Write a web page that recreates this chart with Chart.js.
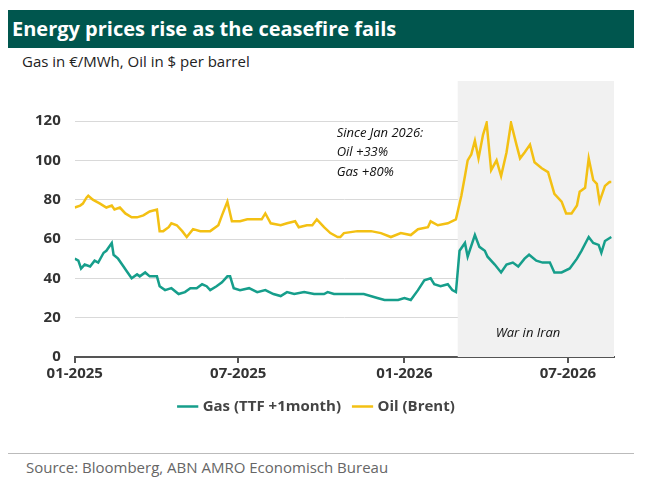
<!DOCTYPE html>
<html>
<head>
<meta charset="utf-8">
<script src="https://cdn.jsdelivr.net/npm/chart.js@4/dist/chart.umd.min.js"></script>
<style>
  body { margin: 0; width: 648px; height: 488px; background: #fff; font-family: "Open Sans", sans-serif; position: relative; }
  #title { position: absolute; left: 8px; top: 10px; width: 626px; height: 38px; background: #00564e; color: #fff;
           font: bold 20px "Open Sans", sans-serif; line-height: 38px; padding-left: 4px; box-sizing: border-box; }
  #sub { position: absolute; left: 22px; top: 51px; font-size: 15px; color: #222; }
  #wrap { position: absolute; left: 0; top: 78px; width: 648px; height: 350px; }
  #rule { position: absolute; left: 8px; top: 453px; width: 626px; border-top: 1px solid #bbb; }
  #src { position: absolute; left: 26px; top: 457px; font-size: 15px; color: #666; }
</style>
</head>
<body>
<div id="title">Energy prices rise as the ceasefire fails</div>
<div id="sub">Gas in €/MWh, Oil in $ per barrel</div>
<div id="wrap"><canvas id="myChart"></canvas></div>
<div id="rule"></div>
<div id="src">Source: Bloomberg, ABN AMRO Economisch Bureau</div>
<script>
// Dagen sinds 1 januari 2025
const gasDays = [0,4,7,11,17,22,26,32,35,41,43,48,54,57,63,69,72,78,83,91,94,100,107,115,122,128,135,141,146,150,157,163,169,172,176,183,193,202,211,220,228,235,243,254,265,276,280,287,
  306,320,335,343,358,365,372,380,387,394,398,405,413,418,422,426,432,435,443,448,454,457,465,472,478,485,491,498,503,511,518,526,531,539,548,556,561,569,574,580,583,587,594];
const gasValues = [50,49,45,47,46,49,48,53,54,58,52,50,46,44,40,42,41,43,41,41,36,34,35,32,33,35,35,37,36,34,36,38,41,41,35,34,35,33,34,32,31,33,32,33,32,32,33,32,
  32,32,30,29,29,30,29,34,39,40,37,36,37,34,33,54,58,51,62,56,54,51,47,43,47,48,46,50,52,49,48,48,43,43,45,50,54,61,58,57,53,59,61];
const oilDays = [0,6,9,13,15,20,28,35,41,44,50,56,63,69,76,83,91,94,98,104,107,113,119,124,131,139,150,159,163,169,174,183,191,202,207,211,217,228,235,244,248,257,263,268,276,283,291,
  294,298,313,328,339,350,361,372,380,391,394,402,413,422,428,432,435,439,443,447,452,456,461,467,472,478,483,489,493,498,504,509,517,524,531,539,544,550,556,559,565,569,574,578,581,587,592,594];
const oilValues = [76,77,78,81,82,80,78,76,77,75,76,73,71,71,72,74,75,64,64,66,68,67,64,61,65,64,64,67,72,79,69,69,70,70,70,73,68,67,68,69,66,67,67,70,66,63,61,
  61,63,64,64,63,61,63,62,65,66,69,67,68,70,82,92,100,103,110,101,113,119,95,100,92,104,119,108,101,104,108,99,96,94,83,79,73,73,77,84,86,101,90,88,79,87,89,89];
const tickDays = [0, 181, 365, 546];
const tickLabels = ["01-2025", "07-2025", "01-2026", "07-2026"];
const warStart = 424;
const xMax = 597;

const toPoints = (d, v) => d.map((x, i) => ({ x: x, y: v[i] }));

const shade = {
  id: "shade",
  beforeDatasetsDraw(chart) {
    const { ctx, chartArea, scales } = chart;
    const x0 = scales.x.getPixelForValue(warStart);
    const x1 = scales.x.getPixelForValue(xMax);
    ctx.save();
    ctx.fillStyle = "#f1f1f1";
    ctx.fillRect(x0, chartArea.top - 40, x1 - x0, chartArea.bottom - chartArea.top + 40);
    ctx.restore();
  },
  afterDatasetsDraw(chart) {
    const { ctx, scales } = chart;
    ctx.save();
    ctx.fillStyle = "#111";
    ctx.font = "italic 13px 'Open Sans', sans-serif";
    const tx = scales.x.getPixelForValue(290);
    ctx.fillText("Since Jan 2026:", tx, scales.y.getPixelForValue(114));
    ctx.fillText("Oil +33%", tx, scales.y.getPixelForValue(104));
    ctx.fillText("Gas +80%", tx, scales.y.getPixelForValue(94));
    ctx.fillText("War in Iran", scales.x.getPixelForValue(466), scales.y.getPixelForValue(12));
    ctx.restore();
  }
};

new Chart("myChart", {
  type: "line",
  data: {
    datasets: [
      { label: "Gas (TTF +1month)", data: toPoints(gasDays, gasValues), borderColor: "#169e8b", backgroundColor: "#169e8b", borderWidth: 2.5, pointRadius: 0, tension: 0 },
      { label: "Oil (Brent)", data: toPoints(oilDays, oilValues), borderColor: "#f3c013", backgroundColor: "#f3c013", borderWidth: 2.5, pointRadius: 0, tension: 0 }
    ]
  },
  options: {
    animation: false,
    responsive: true,
    maintainAspectRatio: false,
    layout: { padding: { left: 21, right: 34, top: 43, bottom: 4 } },
    plugins: {
      tooltip: { enabled: false },
      legend: {
        position: "bottom",
        labels: { usePointStyle: true, pointStyle: "line", boxWidth: 30, color: "#444", padding: 14,
                  font: { family: "'Open Sans', sans-serif", size: 15, weight: "bold" } }
      }
    },
    scales: {
      x: {
        type: "linear", min: 0, max: xMax,
        afterBuildTicks: (axis) => { axis.ticks = tickDays.map(v => ({ value: v })); },
        ticks: { autoSkip: false, maxRotation: 0, color: "#333", padding: 2,
                 font: { family: "'Open Sans', sans-serif", size: 15, weight: "bold" },
                 callback: (v) => tickLabels[tickDays.indexOf(v)] },
        grid: { drawOnChartArea: false, drawTicks: true, tickLength: 6, color: "#555", lineWidth: 2 },
        border: { color: "#555", width: 2 }
      },
      y: {
        min: 0, max: 120,
        ticks: { stepSize: 20, color: "#333", padding: 14,
                 font: { family: "'Open Sans', sans-serif", size: 15, weight: "bold" } },
        grid: { color: "#d9d9d9", drawTicks: false },
        border: { display: false }
      }
    }
  },
  plugins: [shade]
});
</script>
</body>
</html>
